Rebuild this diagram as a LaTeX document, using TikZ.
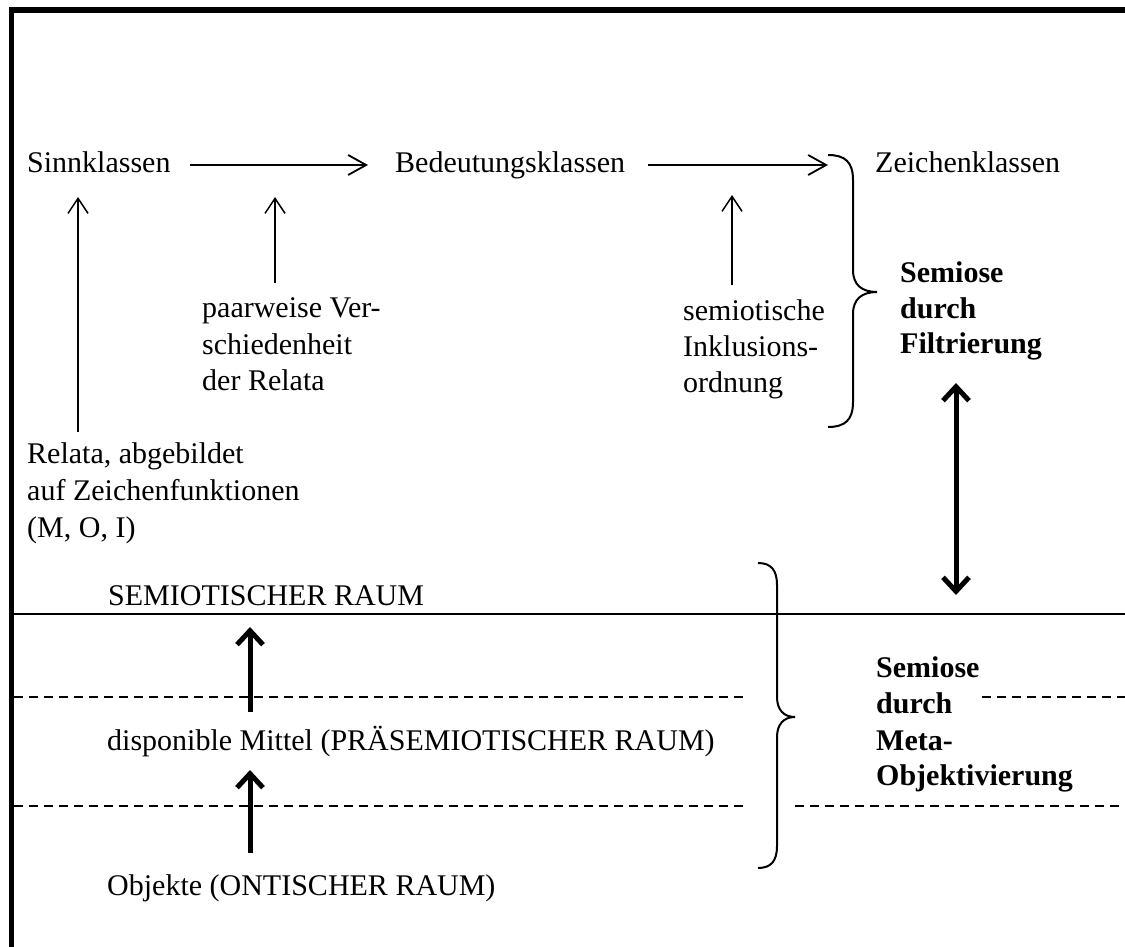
\documentclass[tikz,border=0pt]{standalone}
\usepackage{fontspec}
\setmainfont{Liberation Serif}
\usetikzlibrary{arrows.meta}
\begin{document}
\begin{tikzpicture}[x=1pt,y=-1pt,
  font=\fontsize{30}{36}\selectfont,
  txt/.style={anchor=base west, inner sep=0pt},
  btxt/.style={anchor=base west, inner sep=0pt, font=\fontsize{30}{36}\selectfont\bfseries},
  thinarrow/.style={line width=1.5pt, -{Straight Barb[length=15pt,width=20pt,line width=1.5pt]}},
  harrow/.style={line width=1.8pt, -{Straight Barb[length=18pt,width=20pt,line width=1.8pt]}},
  thickarrow/.style={line width=5pt, -{Straight Barb[length=14pt,width=26pt,line width=5pt]}},
  dblarrow/.style={line width=5pt, {Straight Barb[length=14pt,width=26pt,line width=5pt]}-{Straight Barb[length=14pt,width=26pt,line width=5pt]}},
  dashline/.style={line width=2pt, dash pattern=on 9pt off 6pt},
  bracestyle/.style={line width=2pt}]
\useasboundingbox (0,0) rectangle (1125,947);

% frame
\draw[line width=5.5pt, line join=miter] (11.5,950) -- (11.5,10) -- (1130,10);

% texts
\node[txt] (sinn) at (27,173) {Sinnklassen};
\node[txt] (bed) at (395,173) {Bedeutungsklassen};
\node[txt] (zei) at (875,173) {Zeichenklassen};

\node[txt] (pw1) at (202,317) {paarweise Ver-};
\node[txt] (pw2) at (202,354) {schiedenheit};
\node[txt] (pw3) at (202,390) {der Relata};

\node[txt] (si1) at (683,320) {semiotische};
\node[txt] (si2) at (683,356) {Inklusions-};
\node[txt] (si3) at (683,392) {ordnung};

\node[btxt] (f1) at (900,282) {Semiose};
\node[btxt] (f2) at (900,318) {durch};
\node[btxt] (f3) at (900,353) {Filtrierung};

\node[txt] (r1) at (27,463) {Relata, abgebildet};
\node[txt] (r2) at (27,500) {auf Zeichenfunktionen};
\node[txt] (r3) at (27,537) {(M, O, I)};

\node[txt] (sem) at (108,605) {SEMIOTISCHER RAUM};
\node[txt] (dis) at (107,750) {disponible Mittel (PRÄSEMIOTISCHER RAUM)};
\node[txt] (obj) at (107,895) {Objekte (ONTISCHER RAUM)};

\node[btxt] (m1) at (876,677) {Semiose};
\node[btxt] (m2) at (876,713) {durch};
\node[btxt] (m3) at (876,750) {Meta-};
\node[btxt] (m4) at (876,785) {Objektivierung};

% coordinates
\coordinate (h1s) at (190,165); \coordinate (h1e) at (368,165);
\coordinate (h2s) at (648,165); \coordinate (h2e) at (828,165);
\coordinate (vAs) at (78,432);  \coordinate (vAe) at (78,197);
\coordinate (vBs) at (275,283); \coordinate (vBe) at (275,197);
\coordinate (vCs) at (732,285); \coordinate (vCe) at (732,195);
\coordinate (dTop) at (956,383); \coordinate (dBot) at (956,595);
\coordinate (tAs) at (250,712); \coordinate (tAe) at (250,627);
\coordinate (tBs) at (250,853); \coordinate (tBe) at (250,770);

% arrows
\draw[harrow] (h1s) -- (h1e);
\draw[harrow] (h2s) -- (h2e);
\draw[thinarrow] (vAs) -- (vAe);
\draw[thinarrow] (vBs) -- (vBe);
\draw[thinarrow] (vCs) -- (vCe);
\draw[dblarrow] (dTop) -- (dBot);
\draw[thickarrow] (tAs) -- (tAe);
\draw[thickarrow] (tBs) -- (tBe);

% lines
\draw[line width=2.5pt] (14,614) -- (1125,614);
\draw[dashline] (14,697) -- (747,697);
\draw[dashline] (982,697) -- (1125,697);
\draw[dashline] (14,806) -- (747,806);
\draw[dashline] (795,806) -- (1125,806);

% braces
\draw[bracestyle] (828,155) .. controls (845,155) and (853,162) .. (853,180)
  -- (853,270) .. controls (853,285) and (862,292) .. (877,292)
  .. controls (862,292) and (853,299) .. (853,314)
  -- (853,402) .. controls (853,420) and (845,427) .. (828,427);
\draw[bracestyle] (758,563) .. controls (771,563) and (777,570) .. (777,585)
  -- (777,697) .. controls (777,710) and (784,717) .. (795,717)
  .. controls (784,717) and (777,724) .. (777,737)
  -- (777,846) .. controls (777,861) and (771,868) .. (758,868);
\end{tikzpicture}
\end{document}
